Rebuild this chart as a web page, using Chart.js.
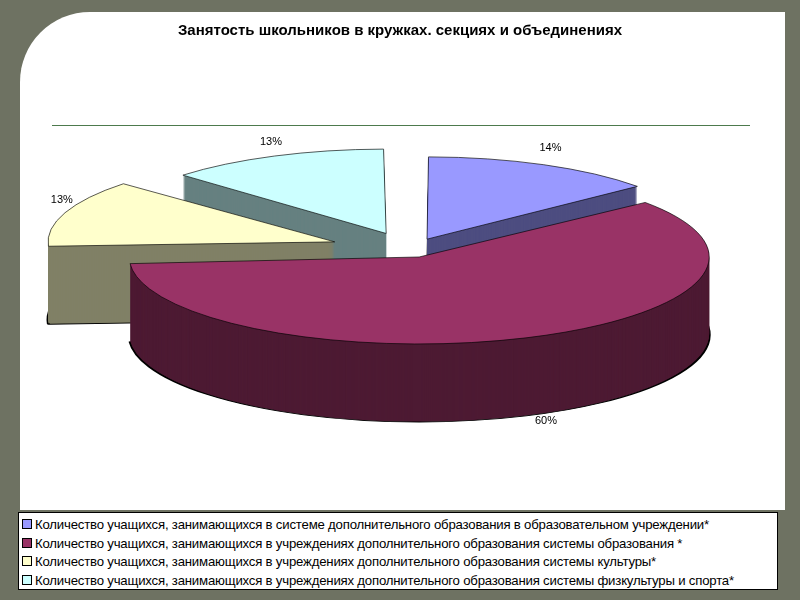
<!DOCTYPE html>
<html><head><meta charset="utf-8">
<script src="https://cdn.jsdelivr.net/npm/chart.js@4"></script>
<style>
body{margin:0;width:800px;height:600px;background:#6e7262;position:relative;overflow:hidden;font-family:"Liberation Sans",Arial,sans-serif}
#panel{position:absolute;left:20px;top:12px;width:765px;height:498px;background:#fff;border-top-left-radius:70px}
#c{position:absolute;left:0;top:0}
#legend{position:absolute;left:18px;top:512px;width:760px;height:78px;background:#fff;border:1px solid #000;box-sizing:border-box;padding:3px 0 0 3px;font-size:13.2px;line-height:18.5px;color:#000;letter-spacing:-0.2px}
#legend div{white-space:nowrap}
#legend span{display:inline-block;width:8px;height:8px;border:1px solid #000;margin-right:3px;vertical-align:0px}
</style></head><body>
<div id="panel"></div>
<canvas id="c" width="800" height="600"></canvas>
<div id="legend"></div>
<script>
const categories=["Количество учащихся, занимающихся в системе дополнительного образования  в образовательном учреждении*","Количество учащихся, занимающихся в учреждениях дополнительного образования системы образования *","Количество учащихся, занимающихся в учреждениях дополнительного образования системы культуры*","Количество учащихся, занимающихся в учреждениях дополнительного образования системы физкультуры и спорта*"];
const values=[14,60,13,13];
const labels=["14%","60%","13%","13%"];
const topColors=["#9999ff","#993366","#ffffcc","#ccffff"];
const sideColors=["#4d4d80","#4d1a33","#808066","#668080"];
const CX=410,CY=250,SY=0.3,DEPTH=78;
document.getElementById('legend').innerHTML=categories.map((t,i)=>`<div><span style="background:${topColors[i]}"></span>${t}</div>`).join('');
const pie3d={id:'pie3d',
beforeDatasetsDraw(chart){
 const ctx=chart.ctx,meta=chart.getDatasetMeta(0);const el0=meta.data[0];
 const ox=el0.x,oy=el0.y;
 const setT=(d)=>{ctx.setTransform(1,0,0,1,0,0);ctx.translate(CX,CY+d);ctx.scale(1,SY);ctx.translate(-ox,-oy);};
 ctx.save();
 for(let d=DEPTH;d>0;d--){
  setT(d);
  meta.data.forEach((el,i)=>{const o=el.options;const bc=o.backgroundColor,bw=o.borderWidth,bcol=o.borderColor;
   o.backgroundColor=sideColors[i];o.borderWidth=(d===DEPTH)?3:0;o.borderColor='#000';el.draw(ctx);
   o.backgroundColor=bc;o.borderWidth=bw;o.borderColor=bcol;});
 }
 setT(0);
},
afterDatasetsDraw(chart){
 const ctx=chart.ctx;ctx.restore();
 const meta=chart.getDatasetMeta(0);
 ctx.save();ctx.font='11px "Liberation Sans",Arial';ctx.fillStyle='#000';ctx.textAlign='center';ctx.textBaseline='middle';
 meta.data.forEach((el,i)=>{const mid=(el.startAngle+el.endAngle)/2;const r=el.outerRadius+(el.options.offset||0)/4+25;
  let X=CX+Math.cos(mid)*r, Y=CY+Math.sin(mid)*r*SY; if(Math.sin(mid)>0.3){Y+=DEPTH+5;X+=20;} else Y-=12;
  ctx.fillText(labels[i],X,Y);});
 ctx.strokeStyle='#4d7a4d';ctx.lineWidth=1;ctx.beginPath();ctx.moveTo(52,125.5);ctx.lineTo(750,125.5);ctx.stroke();
 ctx.restore();
}};
new Chart(document.getElementById('c'),{type:'pie',
 data:{labels:categories,datasets:[{data:values,backgroundColor:topColors,borderColor:'#000',borderWidth:1,offset:[160,100,320,240],radius:265,clip:false}]},
 options:{responsive:false,animation:false,events:[],layout:{padding:{top:0}},
  plugins:{legend:{display:false},tooltip:{enabled:false},
   title:{display:true,text:'Занятость школьников в кружках. секциях и объединениях',font:{family:'"Liberation Sans",Arial',size:15,weight:'bold'},color:'#000',padding:{top:22,bottom:0}}}},
 plugins:[pie3d]});
</script></body></html>
